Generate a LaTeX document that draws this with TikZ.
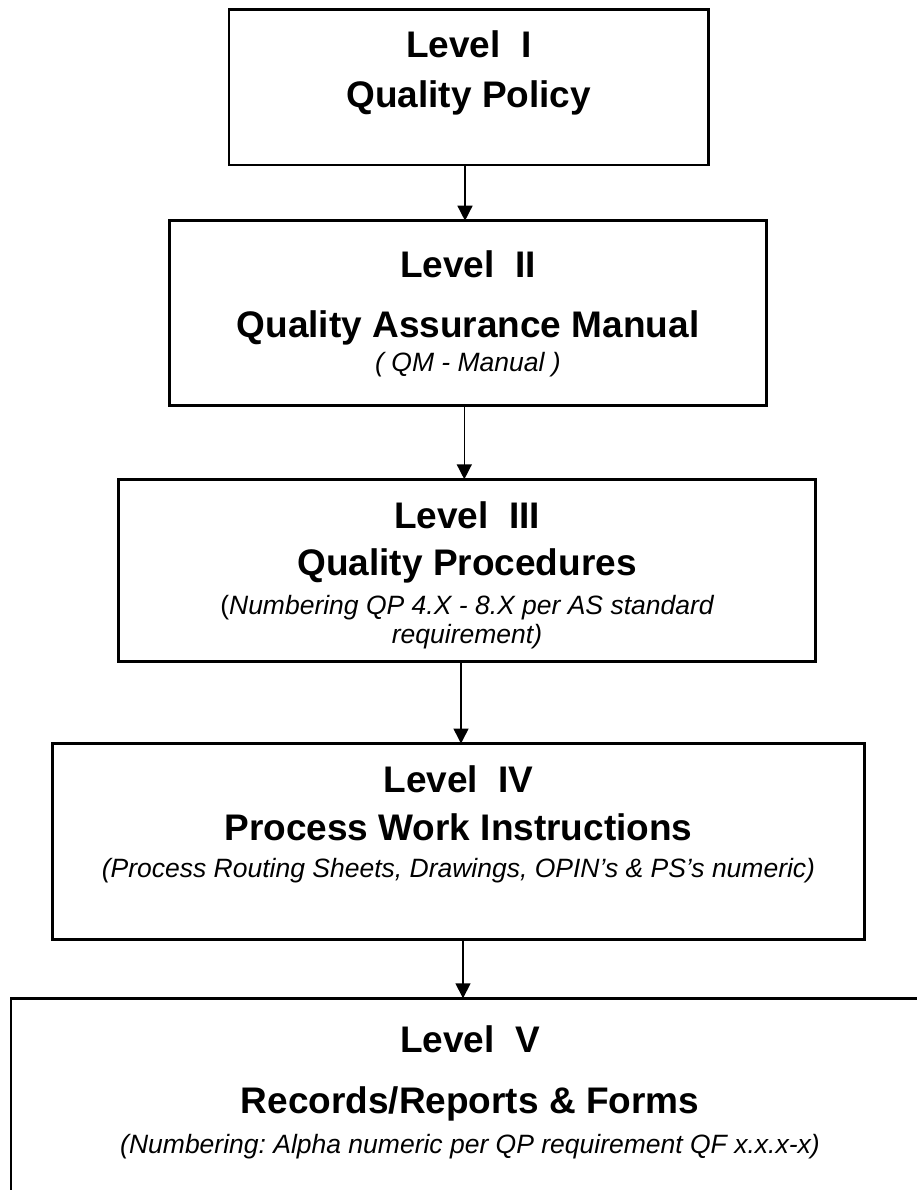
\documentclass[tikz,border=0pt]{standalone}
\usepackage{fontspec}
\setmainfont{Liberation Sans}
\usetikzlibrary{arrows.meta}
\frenchspacing
\begin{document}
\begin{tikzpicture}[x=1pt,y=-1pt,
  levelbox/.style={draw=black, line width=2.5pt, rectangle, inner sep=0pt, outer sep=0pt},
  title/.style={anchor=base, inner sep=0pt, font=\fontsize{37}{40}\selectfont\bfseries},
  note/.style={anchor=base, inner sep=0pt, font=\fontsize{26.5}{30}\selectfont\itshape},
  flow/.style={line width=1.5pt, -{Triangle[width=15pt,length=15pt]}}]

% page frame
\useasboundingbox (0,0) rectangle (917,1190);
\fill[white] (0,0) rectangle (917,1190);
\clip (0,0) rectangle (917,1190);

% the five levels of the documentation hierarchy
\node[levelbox, minimum width=479.5, minimum height=155.7] (b1) at (468.75,87.15) {};
\node[levelbox, minimum width=597, minimum height=184.8] (b2) at (468,313.1) {};
\node[levelbox, minimum width=697, minimum height=182.2] (b3) at (467,570.4) {};
\node[levelbox, minimum width=812, minimum height=195.8] (b4) at (458.5,841.4) {};
\node[levelbox, minimum width=918, minimum height=240] (b5) at (470,1118.3) {};

% Level I
\node[title] (l1) at (468.75,58) {Level\ \ I};
\node[title] (q1) at (468.75,107.5) {Quality Policy};

% Level II
\node[title] (l2) at (468,277) {Level\ \ II};
\node[title] (q2) at (468,337) {Quality Assurance Manual};
\node[note] (n2) at (468,371) {( QM - Manual )};

% Level III
\node[title] (l3) at (467,528) {Level\ \ III};
\node[title] (q3) at (467,575) {Quality Procedures};
\node[note] (n3a) at (467,614) {{\upshape(}Numbering QP 4.X - 8.X per AS standard};
\node[note] (n3b) at (467,643) {requirement)};

% Level IV
\node[title] (l4) at (458.5,792) {Level\ \ IV};
\node[title] (q4) at (458.5,840) {Process Work Instructions};
\node[note] (n4) at (458.5,877) {(Process Routing Sheets, Drawings, OPIN’s \& PS’s numeric)};

% Level V
\node[title] (l5) at (470,1052) {Level\ \ V};
\node[title] (q5) at (470,1113) {Records/Reports \& Forms};
\node[note] (n5) at (470,1153) {(Numbering: Alpha numeric per QP requirement QF x.x.x-x)};

% connectors between levels
\draw[flow] ([xshift=-3.75pt]b1.south) -- ([xshift=-3pt]b2.north);
\draw[flow] ([xshift=-3.7pt]b2.south) -- ([xshift=-2.7pt]b3.north);
\draw[flow] ([xshift=-6pt]b3.south) -- ([xshift=2.5pt]b4.north);
\draw[flow] ([xshift=4.5pt]b4.south) -- ([xshift=-7pt]b5.north);
\end{tikzpicture}
\end{document}
